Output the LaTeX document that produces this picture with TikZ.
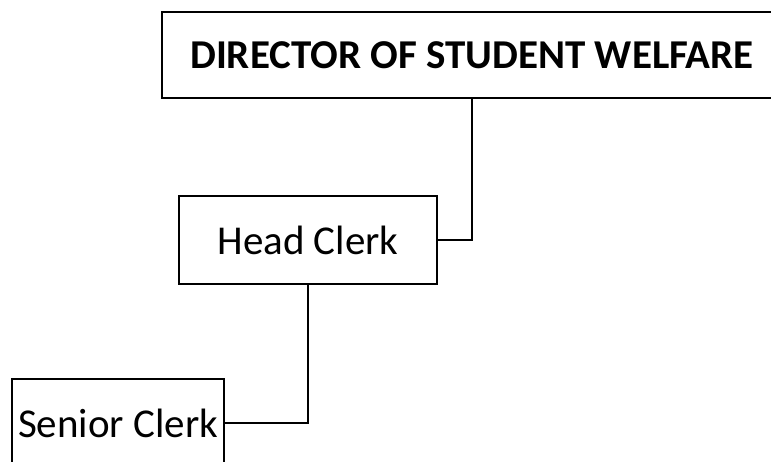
\documentclass[tikz,border=0pt]{standalone}
\usepackage{fontspec}
\setmainfont{Carlito}
\begin{document}
\begin{tikzpicture}[x=1pt,y=-1pt,
  orgbox/.style={draw=black,line width=2.2pt,rectangle,inner sep=0pt,align=center,
    font=\fontsize{41}{49}\selectfont},
  link/.style={draw=black,line width=2.2pt}]
\useasboundingbox (0,0) rectangle (771,461);
\clip (0,0) rectangle (771,461);
\node[orgbox,minimum width=620pt,minimum height=86pt,font=\fontsize{41}{49}\selectfont\bfseries] (dir) at (472,55) {DIRECTOR OF STUDENT WELFARE};
\node[orgbox,minimum width=258pt,minimum height=88pt] (head) at (308,240) {Head Clerk};
\node[orgbox,minimum width=212pt,minimum height=88pt] (senior) at (118,423) {Senior Clerk};
\draw[link] (dir.south) |- (head.east);
\draw[link] (head.south) |- (senior.east);
\end{tikzpicture}
\end{document}
